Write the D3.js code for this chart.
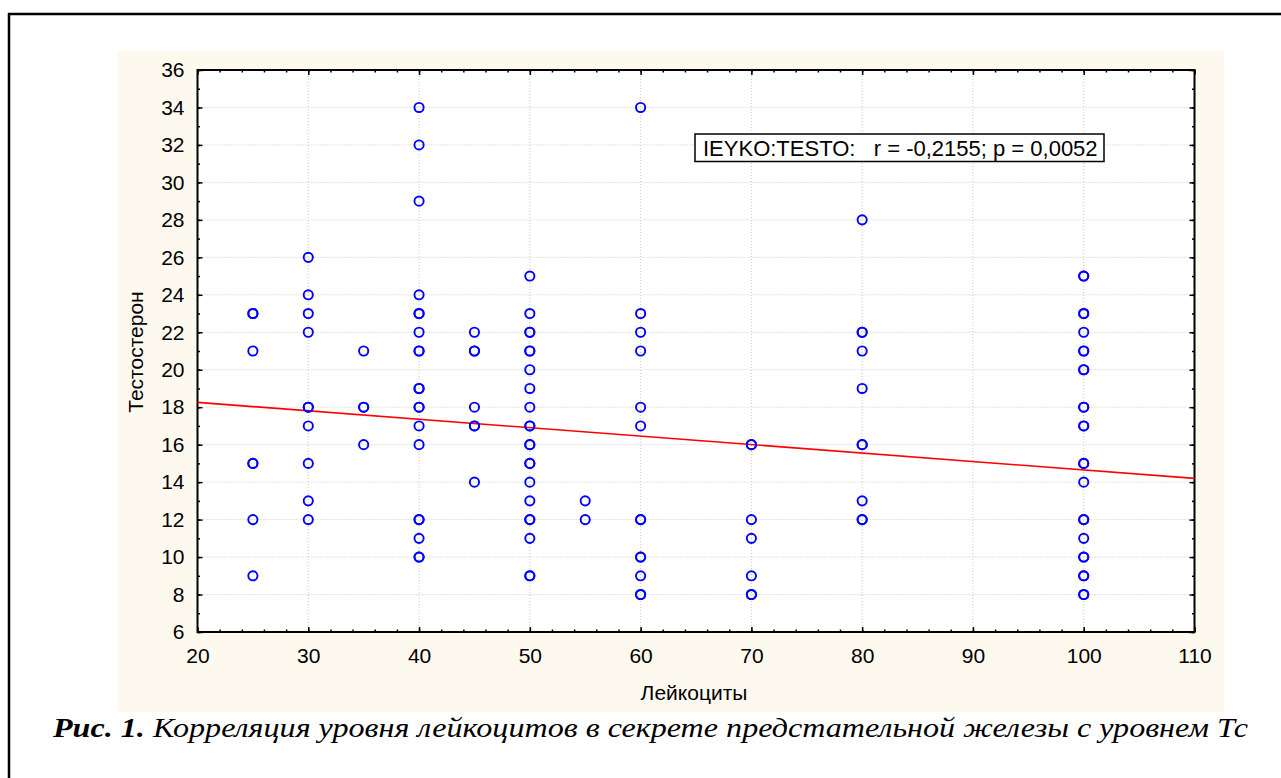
<!DOCTYPE html>
<html>
<head>
<meta charset="utf-8">
<script src="https://cdn.jsdelivr.net/npm/d3@7"></script>
<style>
  html, body { margin: 0; padding: 0; background: #ffffff; }
  svg { display: block; }
</style>
</head>
<body>
<svg id="chart" width="1281" height="778"></svg>
<script>
// ---------- DATA ----------
const leukocytes = [
  25,25,25,25,25,25,25,
  30,30,30,30,30,30,30,30,30,30,
  35,35,35,35,
  40,40,40,40,40,40,40,40,40,40,40,40,40,40,40,40,40,40,40,40,
  45,45,45,45,45,45,45,
  50,50,50,50,50,50,50,50,50,50,50,50,50,50,50,50,50,50,50,50,50,50,
  55,55,
  60,60,60,60,60,60,60,60,60,60,60,60,60,
  70,70,70,70,70,70,70,
  80,80,80,80,80,80,80,80,80,80,
  100,100,100,100,100,100,100,100,100,100,100,100,100,100,100,100,100,100,100,100,100,100,100,100,100
];
const testosterone = [
  23,23,21,15,15,12,9,
  26,24,23,22,18,18,17,15,13,12,
  21,18,18,16,
  34,32,29,24,23,23,22,21,21,19,19,18,18,17,16,12,12,11,10,10,
  22,21,21,18,17,17,14,
  25,23,22,22,21,21,20,19,18,17,17,16,16,15,15,14,13,12,12,11,9,9,
  13,12,
  34,23,22,21,18,17,12,12,10,10,9,8,8,
  16,16,12,11,9,8,8,
  28,22,22,21,19,16,16,13,12,12,
  25,25,23,23,22,21,21,20,20,18,18,17,17,15,15,14,12,12,11,10,10,9,9,8,8
];
// fitted regression line: testosterone = intercept + slope * leukocytes
const regIntercept = 19.16;
const regSlope = -0.0451;

const xDomain = [20, 110];
const yDomain = [6, 36];
const xTicks = [20, 30, 40, 50, 60, 70, 80, 90, 100, 110];
const yTicks = [6, 8, 10, 12, 14, 16, 18, 20, 22, 24, 26, 28, 30, 32, 34, 36];

const xTitle = "Лейкоциты";
const yTitle = "Тестостерон";
const statText = "IEYKO:TESTO:   r = -0,2155; p = 0,0052";
const captionBold = "Рис. 1.";
const captionRest = " Корреляция уровня лейкоцитов в секрете предстательной железы с уровнем Тс";

// ---------- LAYOUT ----------
const svg = d3.select("#chart");
const L = 197.5, R = 1194.5, T = 70, B = 632;
const x = d3.scaleLinear().domain(xDomain).range([L, R]);
const y = d3.scaleLinear().domain(yDomain).range([B, T]);

// outer page frame
svg.append("rect").attr("x", 9).attr("y", 14).attr("width", 1300).attr("height", 800)
  .attr("fill", "#ffffff").attr("stroke", "#000").attr("stroke-width", 2.5);

// cream chart background
svg.append("rect").attr("x", 117).attr("y", 51).attr("width", 1107).attr("height", 661)
  .attr("fill", "#fdf9ee");

// plot area
svg.append("rect").attr("x", L).attr("y", T).attr("width", R - L).attr("height", B - T)
  .attr("fill", "#ffffff");

// grid lines
const grid = svg.append("g").attr("stroke", "#c8c8c8").attr("stroke-width", 1)
  .attr("stroke-dasharray", "1,2");
grid.selectAll("line.h").data(yTicks.filter(v => v > yDomain[0] && v < yDomain[1]))
  .enter().append("line")
  .attr("x1", L).attr("x2", R).attr("y1", d => y(d)).attr("y2", d => y(d));
grid.selectAll("line.v").data(xTicks.filter(v => v > xDomain[0] && v < xDomain[1]))
  .enter().append("line")
  .attr("y1", T).attr("y2", B).attr("x1", d => x(d)).attr("x2", d => x(d));

// axes with inward ticks
const fontTicks = "'Liberation Sans', Arial, sans-serif";
const xMinor = d3.range(xDomain[0], xDomain[1] + 0.001, 2);
const yMinor = d3.range(yDomain[0], yDomain[1] + 0.001, 1);

function axisG(axis, tx, ty) {
  const g = svg.append("g").attr("transform", `translate(${tx},${ty})`).call(axis);
  g.select(".domain").remove();
  g.selectAll("line").attr("stroke", "#000").attr("stroke-width", 1.5);
  return g;
}
// minor ticks
axisG(d3.axisBottom(x).tickValues(xMinor).tickSize(-2.5).tickFormat(""), 0, B);
axisG(d3.axisTop(x).tickValues(xMinor).tickSize(-2.5).tickFormat(""), 0, T);
axisG(d3.axisLeft(y).tickValues(yMinor).tickSize(-2.5).tickFormat(""), L, 0);
axisG(d3.axisRight(y).tickValues(yMinor).tickSize(-2.5).tickFormat(""), R, 0);
// major ticks
const xb = axisG(d3.axisBottom(x).tickValues(xTicks).tickSize(-5).tickPadding(16).tickFormat(d3.format("d")), 0, B);
axisG(d3.axisTop(x).tickValues(xTicks).tickSize(-5).tickFormat(""), 0, T);
const yl = axisG(d3.axisLeft(y).tickValues(yTicks).tickSize(-5).tickPadding(13).tickFormat(d3.format("d")), L, 0);
axisG(d3.axisRight(y).tickValues(yTicks).tickSize(-5).tickFormat(""), R, 0);

xb.selectAll("text").attr("font-family", fontTicks).attr("font-size", 21).attr("fill", "#000");
yl.selectAll("text").attr("font-family", fontTicks).attr("font-size", 21).attr("fill", "#000");

// frame of plot
svg.append("rect").attr("x", L).attr("y", T).attr("width", R - L).attr("height", B - T)
  .attr("fill", "none").attr("stroke", "#000").attr("stroke-width", 2);

// regression line
svg.append("line")
  .attr("x1", x(xDomain[0])).attr("y1", y(regIntercept + regSlope * xDomain[0]))
  .attr("x2", x(xDomain[1])).attr("y2", y(regIntercept + regSlope * xDomain[1]))
  .attr("stroke", "#ff0000").attr("stroke-width", 1.6);

// points
const pts = leukocytes.map((v, i) => ({ x: v, y: testosterone[i] }));
svg.append("g").selectAll("circle").data(pts).enter().append("circle")
  .attr("cx", d => x(d.x)).attr("cy", d => y(d.y)).attr("r", 4.6)
  .attr("fill", "none").attr("stroke", "#0000ff").attr("stroke-width", 1.9);

// statistics box
svg.append("rect").attr("x", 695).attr("y", 134).attr("width", 409).attr("height", 27.5)
  .attr("fill", "#ffffff").attr("stroke", "#000").attr("stroke-width", 1.5);
svg.append("text").attr("x", 703).attr("y", 156)
  .attr("font-family", fontTicks).attr("font-size", 22).attr("fill", "#000")
  .style("white-space", "pre").text(statText);

// axis titles
svg.append("text").attr("x", 694).attr("y", 700).attr("text-anchor", "middle")
  .attr("font-family", fontTicks).attr("font-size", 21).attr("fill", "#000").text(xTitle);
svg.append("text").attr("transform", "translate(143,352) rotate(-90)").attr("text-anchor", "middle")
  .attr("font-family", fontTicks).attr("font-size", 21).attr("fill", "#000").text(yTitle);

// caption
const cap = svg.append("text").attr("x", 53).attr("y", 737)
  .attr("font-family", "'Liberation Serif', 'Times New Roman', serif")
  .attr("font-size", 28).attr("font-style", "italic").attr("fill", "#000")
  .attr("textLength", 1195).attr("lengthAdjust", "spacingAndGlyphs")
  .style("white-space", "pre");
cap.append("tspan").attr("font-weight", "bold").text(captionBold);
cap.append("tspan").text(captionRest);
</script>
</body>
</html>
